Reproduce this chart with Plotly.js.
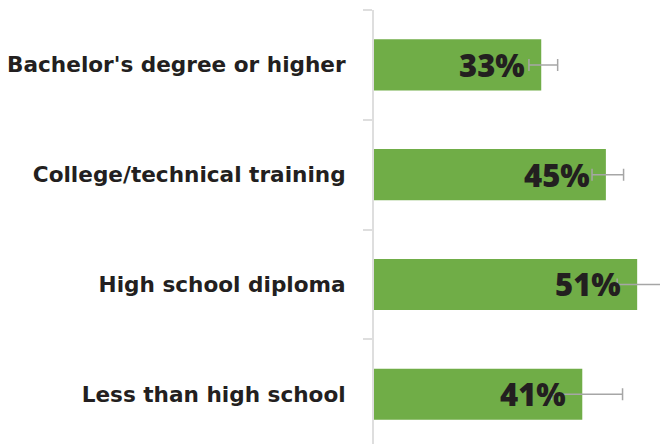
<!DOCTYPE html>
<html>
<head>
<meta charset="utf-8">
<script src="https://cdn.plot.ly/plotly-3.0.1.min.js"></script>
<style>html,body{margin:0;padding:0;background:#fff;}#chart{width:660px;height:444px;}</style>
</head>
<body>
<div id="chart"></div>
<script>
var categories = ["Bachelor's degree or higher", "College/technical training", "High school diploma", "Less than high school"];
var values = [32.6, 45.2, 51.3, 40.6];
var valueLabels = ["33%", "45%", "51%", "41%"];
var errPlus = [3.2, 3.45, 4.8, 7.85];
var errMinus = [2.4, 2.7, 3.9, 6.0];

var trace = {
  type: 'bar',
  orientation: 'h',
  y: categories,
  x: values,
  width: 0.465,
  marker: {color: '#70AD47'},
  error_x: {type: 'data', symmetric: false, array: errPlus, arrayminus: errMinus,
            color: '#a6a6a6', thickness: 1.5, width: 6},
  hoverinfo: 'none'
};

var annotations = categories.map(function(c, i){
  return {x: values[i], y: c, xref: 'x', yref: 'y', text: valueLabels[i],
    showarrow: false, xanchor: 'right', yanchor: 'middle', xshift: -14, yshift: 0,
    font: {family: 'Open Sans', size: 31, weight: 800, color: '#231f20'}};
});

var layout = {
  width: 660, height: 444,
  margin: {l: 374, r: 0, t: 10, b: 0, pad: 0},
  paper_bgcolor: '#ffffff', plot_bgcolor: '#ffffff',
  showlegend: false,
  xaxis: {range: [0, 55.75], visible: false, fixedrange: true},
  yaxis: {type: 'category', range: [3.454, -0.5], showline: true, linecolor: '#dedede', linewidth: 2,
    ticks: 'outside', tickson: 'boundaries', ticklen: 9, tickcolor: '#dedede', tickwidth: 2,
    showgrid: false, zeroline: false, ticklabelstandoff: 22,
    tickfont: {family: 'DejaVu Sans', size: 21.6, weight: 700, color: '#231f20'}},
  annotations: annotations
};

Plotly.newPlot('chart', [trace], layout, {staticPlot: true, displayModeBar: false});
</script>
</body>
</html>
